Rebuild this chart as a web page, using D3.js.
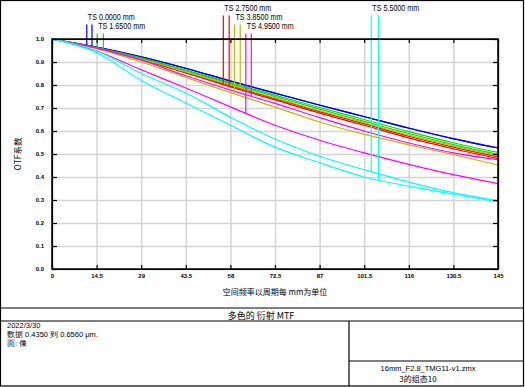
<!DOCTYPE html>
<html>
<head>
<meta charset="utf-8">
<script src="https://cdn.jsdelivr.net/npm/d3@7/dist/d3.min.js"></script>
<style>
  body { margin: 0; background: #fff; }
  text { font-family: "Liberation Sans", Arial, sans-serif; fill: #000; }
  .cjk { font-family: "Noto Sans CJK SC", "Liberation Sans", sans-serif; }
</style>
</head>
<body>
<div id="chart"></div>
<script>
// Spatial frequency samples (cycles per mm) and tick labels
const freqs = [0, 14.5, 29, 43.5, 58, 72.5, 87, 101.5, 116, 130.5, 145];
const xTickLabels = ["0", "14.5", "29", "43.5", "58", "72.5", "87", "101.5", "116", "130.5", "145"];
const yTicks = [0, 0.1, 0.2, 0.3, 0.4, 0.5, 0.6, 0.7, 0.8, 0.9, 1.0];

// Fields
const fieldLabels = ["TS 0.0000 mm", "TS 1.6500 mm", "TS 2.7500 mm", "TS 3.8500 mm", "TS 4.9500 mm", "TS 5.5000 mm"];
const fieldColors = ["#0000ff", "#00e000", "#ff0000", "#bcbc00", "#ff00ff", "#00ffff"];
const labelRows = [1, 2, 0, 1, 2, 0];

// MTF values, one pair (first marker curve, second marker curve) per field
const mtfBlueT    = [1, 0.965, 0.923, 0.873, 0.818, 0.765, 0.713, 0.663, 0.613, 0.567, 0.527];
const mtfBlueS    = [1, 0.965, 0.922, 0.872, 0.817, 0.764, 0.712, 0.662, 0.612, 0.566, 0.526];
const mtfGreenT   = [1, 0.963, 0.918, 0.865, 0.810, 0.756, 0.702, 0.650, 0.597, 0.549, 0.507];
const mtfGreenS   = [1, 0.962, 0.916, 0.862, 0.806, 0.750, 0.695, 0.642, 0.589, 0.541, 0.498];
const mtfRedT     = [1, 0.961, 0.912, 0.855, 0.797, 0.741, 0.684, 0.632, 0.577, 0.530, 0.487];
const mtfRedS     = [1, 0.960, 0.910, 0.852, 0.792, 0.735, 0.678, 0.625, 0.570, 0.523, 0.480];
const mtfOliveT   = [1, 0.958, 0.900, 0.833, 0.767, 0.704, 0.639, 0.585, 0.540, 0.497, 0.452];
const mtfOliveS   = [1, 0.961, 0.913, 0.857, 0.800, 0.744, 0.688, 0.636, 0.582, 0.535, 0.492];
const mtfMagentaT = [1, 0.948, 0.866, 0.787, 0.705, 0.625, 0.560, 0.505, 0.455, 0.410, 0.371];
const mtfMagentaS = [1, 0.960, 0.908, 0.840, 0.778, 0.720, 0.658, 0.600, 0.548, 0.505, 0.475];
const mtfCyanT    = [1, 0.948, 0.850, 0.765, 0.660, 0.565, 0.490, 0.432, 0.378, 0.332, 0.297];
const mtfCyanS    = [1, 0.940, 0.820, 0.722, 0.625, 0.530, 0.462, 0.400, 0.360, 0.325, 0.292];

const fieldCurves = [
  [mtfBlueT, mtfBlueS],
  [mtfGreenT, mtfGreenS],
  [mtfRedT, mtfRedS],
  [mtfOliveT, mtfOliveS],
  [mtfMagentaT, mtfMagentaS],
  [mtfCyanT, mtfCyanS]
];

// Frequencies where the identification markers drop onto each curve
const markerFreqs = [[11.3, 13.0], [14.7, 16.7], [55.7, 57.6], [59.3, 61.2], [63.0, 64.8], [103.8, 106.1]];

const W = 525, H = 387;
const plot = { left: 52, right: 498, top: 39, bottom: 269 };

const svg = d3.select("#chart").append("svg")
  .attr("width", W)
  .attr("height", H);

const x = d3.scaleLinear().domain([0, 145]).range([plot.left, plot.right]);
const y = d3.scaleLinear().domain([0, 1]).range([plot.bottom, plot.top]);

// Grid
svg.append("g")
  .attr("transform", `translate(0,${plot.bottom})`)
  .call(d3.axisBottom(x).tickValues(freqs).tickSize(-(plot.bottom - plot.top)).tickFormat(""))
  .call(g => g.select(".domain").remove())
  .selectAll("line").attr("stroke", "#d4d4d4").attr("stroke-width", 1.5);

svg.append("g")
  .attr("transform", `translate(${plot.left},0)`)
  .call(d3.axisLeft(y).tickValues(yTicks).tickSize(-(plot.right - plot.left)).tickFormat(""))
  .call(g => g.select(".domain").remove())
  .selectAll("line").attr("stroke", "#d4d4d4").attr("stroke-width", 1.5);

// Curves
const line = d3.line()
  .x((d, i) => x(freqs[i]))
  .y(d => y(d))
  .curve(d3.curveMonotoneX);

fieldCurves.forEach((pair, fi) => {
  pair.forEach(vals => {
    svg.append("path")
      .datum(vals)
      .attr("fill", "none")
      .attr("stroke", fieldColors[fi])
      .attr("stroke-width", 1.2)
      .attr("d", line);
  });
});

// Value of a curve at any frequency, following the sampled points
function valueAt(vals, f) {
  const i = Math.min(d3.bisectRight(freqs, f) - 1, freqs.length - 2);
  const t = (f - freqs[i]) / (freqs[i + 1] - freqs[i]);
  return vals[i] + t * (vals[i + 1] - vals[i]);
}

// Field markers and labels
fieldLabels.forEach((lab, fi) => {
  const base = 11 + 9 * labelRows[fi];
  markerFreqs[fi].forEach((f, k) => {
    svg.append("line")
      .attr("x1", x(f)).attr("x2", x(f))
      .attr("y1", base + 4.5)
      .attr("y2", y(valueAt(fieldCurves[fi][k], f)))
      .attr("stroke", fieldColors[fi])
      .attr("stroke-width", 1.2);
  });
  svg.append("text")
    .attr("x", x(markerFreqs[fi][0]) + 1)
    .attr("y", base)
    .attr("textLength", 47)
    .attr("lengthAdjust", "spacingAndGlyphs")
    .style("font-size", "8.5px")
    .text(lab);
});

// Axes with inward ticks
svg.append("g")
  .attr("transform", `translate(0,${plot.bottom})`)
  .call(d3.axisBottom(x).tickValues(freqs).tickSize(-4).tickSizeOuter(0).tickPadding(5)
    .tickFormat((d, i) => xTickLabels[i]))
  .call(g => g.selectAll("text").style("font-size", "6px").style("font-weight", "bold"))
  .call(g => g.selectAll("line,path").attr("stroke", "#000").attr("stroke-width", 1.2));

svg.append("g")
  .attr("transform", `translate(0,${plot.top})`)
  .call(d3.axisTop(x).tickValues(freqs).tickSize(-4).tickSizeOuter(0).tickFormat(""))
  .call(g => g.selectAll("line,path").attr("stroke", "#000").attr("stroke-width", 1.2));

svg.append("g")
  .attr("transform", `translate(${plot.left},0)`)
  .call(d3.axisLeft(y).tickValues(yTicks).tickSize(-5).tickSizeOuter(0).tickPadding(8)
    .tickFormat(d3.format(".1f")))
  .call(g => g.selectAll("text").style("font-size", "6px").style("font-weight", "bold"))
  .call(g => g.selectAll("line,path").attr("stroke", "#000").attr("stroke-width", 1.2));

svg.append("g")
  .attr("transform", `translate(${plot.right},0)`)
  .call(d3.axisRight(y).tickValues(yTicks).tickSize(-5).tickSizeOuter(0).tickFormat(""))
  .call(g => g.selectAll("line,path").attr("stroke", "#000").attr("stroke-width", 1.2));

svg.append("rect")
  .attr("x", plot.left).attr("y", plot.top)
  .attr("width", plot.right - plot.left).attr("height", plot.bottom - plot.top)
  .attr("fill", "none").attr("stroke", "#000").attr("stroke-width", 1.5);

// Axis titles
svg.append("text")
  .attr("class", "cjk")
  .attr("x", (plot.left + plot.right) / 2)
  .attr("y", 295)
  .attr("text-anchor", "middle")
  .style("font-size", "8px")
  .text("空间频率以周期每 mm为单位");

svg.append("text")
  .attr("class", "cjk")
  .attr("transform", `translate(21,${(plot.top + plot.bottom) / 2}) rotate(-90)`)
  .attr("text-anchor", "middle")
  .style("font-size", "8.5px")
  .text("OTF系数");

// Outer frame and info boxes
svg.append("rect")
  .attr("x", 0.5).attr("y", 0.5).attr("width", 523).attr("height", 385.5)
  .attr("fill", "none").attr("stroke", "#000").attr("stroke-width", 1.2);

[[0, 308, 524, 308], [0, 321, 524, 321], [349, 321, 349, 386], [349, 361, 524, 361]].forEach(s => {
  svg.append("line")
    .attr("x1", s[0]).attr("y1", s[1]).attr("x2", s[2]).attr("y2", s[3])
    .attr("stroke", "#000").attr("stroke-width", 1.2);
});

svg.append("text")
  .attr("class", "cjk")
  .attr("x", 261).attr("y", 318.5)
  .attr("text-anchor", "middle")
  .style("font-size", "9px")
  .text("多色的 衍射 MTF");

// Info block, one line per text
const infoLines = ["2022/3/30", "数据 0.4350 到 0.6560 μm.", "面: 像"];
infoLines.forEach((t, i) => {
  svg.append("text")
    .attr("x", 7).attr("y", 328 + i * 9)
    .style("font-size", "7.5px")
    .text(t);
});

svg.append("text")
  .attr("x", 428).attr("y", 370.5)
  .attr("text-anchor", "middle")
  .style("font-size", "7.5px")
  .text("16mm_F2.8_TMG11-v1.zmx");

svg.append("text")
  .attr("class", "cjk")
  .attr("x", 418).attr("y", 381.5)
  .attr("text-anchor", "middle")
  .style("font-size", "8px")
  .text("3的组态10");
</script>
</body>
</html>
